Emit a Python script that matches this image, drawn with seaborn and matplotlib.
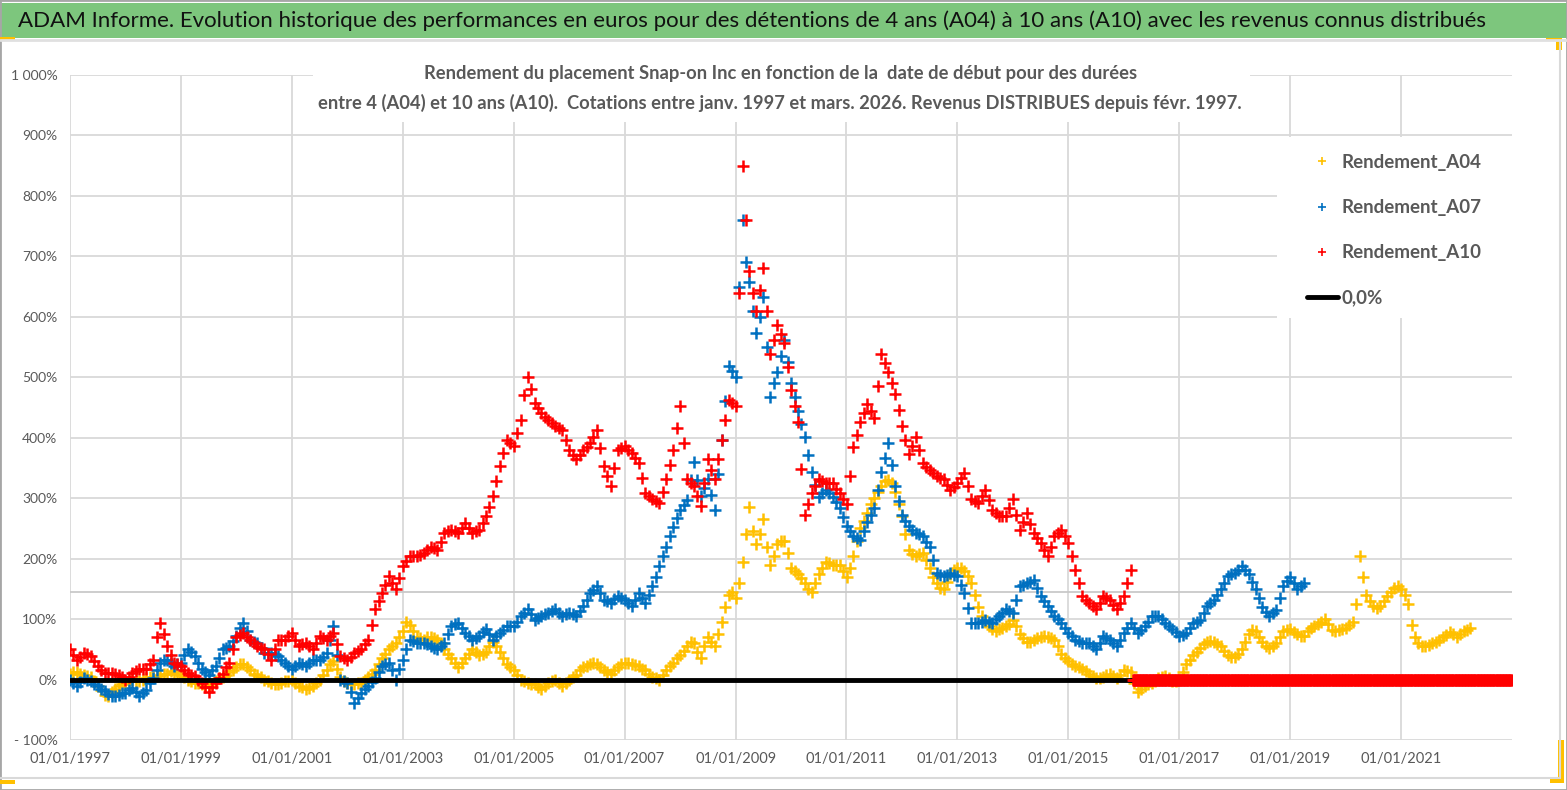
import numpy as np
import pandas as pd
import seaborn as sns
import matplotlib
matplotlib.use("Agg")
import matplotlib.pyplot as plt
from matplotlib.patches import Rectangle
from matplotlib.lines import Line2D

W, H, DPI = 1567, 790, 100

# rendements en %, un point tous les 1/8 d'annee a partir du 01/01/1997
a04 = [10, 12, 8, 5, -10, -25, -20, -10,
       -5, 0, -3, 2, 5, 8, 10, 12,
       8, 0, -5, -8, -12, -3, 5, 12,
       20, 25, 15, 8, 0, -5, -8, -3,
       0, -10, -15, -10, 0, 15, 30, 5,
       -5, -8, -5, 5, 15, 35, 50, 60,
       80, 90, 70, 65, 70, 65, 50, 35,
       20, 35, 50, 40, 45, 62, 45, 25,
       15, 0, -5, -8, -15, -5, 0, -10,
       0, 8, 20, 25, 25, 15, 10, 20,
       28, 25, 22, 15, 5, 0, 15, 28,
       40, 55, 60, 35, 70, 55, 95, 140,
       135, 195, 285, 225, 265, 190, 225, 230,
       185, 175, 160, 145, 175, 195, 190, 190,
       170, 205, 250, 275, 300, 320, 330, 310,
       270, 215, 205, 210, 185, 160, 150, 175,
       185, 180, 160, 120, 95, 83, 83, 88,
       98, 75, 62, 66, 70, 70, 65, 42,
       30, 22, 17, 10, 2, 4, 10, 2,
       15, 12, -20, -10, -6, 2, 6, -3,
       0, 25, 40, 52, 62, 62, 55, 40,
       38, 50, 75, 80, 62, 52, 60, 80,
       83, 75, 72, 85, 92, 100, 82, 82,
       86, 95, 205, 140, 122, 122, 138, 152,
       150, 125, 70, 55, 57, 62, 70, 78,
       70, 80, 85]
# lectures intermediaires (decalees de 1/16 d'annee)
a04_mi = [13, 10, 6, -2, -18, -28, -15, -8,
          -2, -2, 0, 4, 6, 10, 14, 10,
          4, -3, -6, -10, -8, 2, 8, 16,
          25, 20, 10, 4, -3, -8, -6, -2,
          -5, -12, -14, -5, 8, 25, 18, -2,
          -8, -6, 0, 10, 25, 42, 55, 70,
          95, 80, 68, 70, 68, 60, 42, 28,
          28, 42, 45, 42, 55, 55, 35, 20,
          8, -3, -8, -12, -10, -2, -5, -5,
          4, 15, 22, 28, 20, 12, 15, 25,
          27, 24, 18, 10, 2, 8, 22, 35,
          48, 62, 45, 55, 62, 75, 120, 145,
          160, 240, 245, 240, 220, 205, 230, 210,
          180, 168, 150, 160, 185, 192, 190, 180,
          185, 230, 262, 290, 310, 328, 325, 290,
          240, 208, 208, 198, 170, 152, 162, 182,
          185, 172, 140, 105, 88, 80, 86, 92,
          88, 68, 62, 68, 72, 68, 55, 36,
          26, 20, 14, 6, 2, 8, 6, 8,
          14, -5, -15, -8, -2, 4, 2, -2,
          12, 32, 46, 58, 64, 58, 48, 38,
          42, 62, 82, 70, 55, 55, 70, 82,
          78, 72, 80, 88, 96, 92, 80, 84,
          90, 125, 170, 130, 118, 130, 145, 155,
          140, 90, 60, 55, 60, 66, 74, 75,
          75, 82]

a07 = [0, -11, 3, -3, -11, -19, -28, -25,
       -22, -14, -28, -17, 3, 28, 33, 22,
       28, 50, 39, 17, 8, 22, 50, 55,
       72, 94, 66, 61, 44, 44, 39, 28,
       17, 28, 22, 33, 33, 44, 88, 0,
       -6, -38, -22, -11, 3, 22, 28, 0,
       33, 66, 61, 61, 55, 50, 61, 88,
       94, 77, 66, 72, 83, 66, 77, 88,
       88, 105, 116, 99, 105, 110, 116, 105,
       110, 105, 121, 143, 154, 132, 127, 138,
       132, 121, 143, 127, 154, 187, 220, 253,
       281, 297, 360, 303, 331, 281, 397, 518,
       500, 760, 657, 574, 633, 467, 509, 562,
       491, 444, 402, 343, 302, 314, 302, 284,
       254, 237, 231, 260, 284, 343, 391, 320,
       272, 254, 243, 237, 220, 176, 171, 176,
       171, 143, 94, 94, 99, 94, 105, 116,
       110, 154, 160, 165, 138, 121, 105, 94,
       77, 66, 61, 61, 50, 72, 66, 55,
       77, 94, 77, 88, 105, 105, 94, 83,
       72, 77, 94, 99, 121, 132, 149, 171,
       176, 187, 175, 150, 120, 105, 115, 155,
       170, 150, 160]
a07_mi = [-6, -4, 0, -7, -15, -24, -27, -23,
          -18, -20, -22, -6, 15, 32, 28, 25,
          40, 45, 28, 12, 15, 36, 52, 63,
          85, 80, 62, 52, 44, 42, 33, 22,
          22, 25, 28, 33, 38, 66, 40, -3,
          -20, -30, -16, -4, 12, 25, 15, 18,
          50, 63, 61, 58, 52, 55, 75, 92,
          85, 72, 69, 78, 75, 72, 82, 88,
          96, 110, 108, 102, 108, 113, 110, 108,
          108, 113, 132, 148, 143, 130, 133, 135,
          126, 132, 135, 140, 170, 204, 237, 267,
          289, 330, 330, 317, 306, 340, 460, 510,
          650, 690, 610, 600, 550, 490, 535, 525,
          468, 423, 372, 322, 308, 308, 293, 269,
          245, 234, 245, 272, 313, 367, 355, 296,
          263, 248, 240, 228, 198, 173, 173, 173,
          157, 118, 94, 96, 96, 100, 110, 113,
          132, 157, 162, 152, 130, 113, 100, 85,
          72, 63, 61, 55, 61, 69, 60, 66,
          85, 85, 82, 96, 105, 100, 88, 78,
          74, 85, 96, 110, 126, 140, 160, 174,
          182, 181, 162, 135, 112, 110, 135, 163,
          160, 155]

a10 = [50, 33, 44, 39, 22, 11, 11, 8,
       0, 11, 17, 17, 33, 94, 55, 28,
       22, 11, 6, -5, -20, -5, 10, 28,
       70, 77, 65, 55, 50, 33, 66, 66,
       77, 55, 61, 50, 72, 66, 77, 39,
       33, 44, 50, 66, 116, 143, 171, 149,
       187, 204, 204, 209, 220, 215, 242, 248,
       242, 259, 242, 248, 270, 303, 353, 397,
       386, 430, 501, 457, 441, 430, 419, 413,
       380, 364, 380, 391, 413, 353, 320, 380,
       386, 375, 358, 309, 298, 292, 331, 380,
       452, 331, 320, 287, 364, 331, 397, 463,
       452, 850, 675, 609, 680, 538, 586, 556,
       479, 426, 272, 308, 331, 325, 325, 308,
       290, 385, 426, 456, 432, 538, 509, 473,
       420, 373, 402, 358, 347, 336, 331, 314,
       325, 342, 298, 292, 314, 281, 270, 270,
       298, 248, 275, 242, 226, 204, 237, 248,
       226, 182, 138, 127, 116, 138, 132, 116,
       138, 182]
a10_mi = [40, 38, 42, 30, 16, 11, 10, 4,
          5, 14, 17, 25, 70, 75, 40, 25,
          16, 8, 0, -12, -12, 3, 20, 50,
          74, 70, 60, 52, 42, 50, 66, 72,
          66, 58, 55, 61, 69, 72, 58, 36,
          38, 47, 58, 90, 130, 157, 160, 168,
          196, 204, 206, 215, 218, 228, 245, 245,
          250, 250, 245, 259, 286, 328, 375, 392,
          408, 470, 480, 449, 435, 425, 416, 397,
          372, 372, 385, 402, 383, 336, 350, 383,
          380, 366, 333, 303, 295, 311, 355, 416,
          392, 325, 303, 325, 347, 364, 430, 457,
          640, 760, 640, 645, 610, 562, 571, 517,
          452, 349, 290, 320, 328, 325, 316, 299,
          337, 405, 441, 444, 485, 523, 491, 446,
          396, 387, 380, 352, 341, 333, 322, 319,
          333, 320, 295, 303, 297, 275, 270, 284,
          273, 261, 258, 234, 215, 220, 242, 237,
          204, 160, 132, 121, 127, 135, 124, 127,
          160]

debut = "1997-01-01"
fin_zero_noir = "2016-03-01"      # fin de la ligne 0,0%
debut_zero_rouge = "2016-03-01"   # A10 a zero apres la fin des cotations
fin_axe = "2023-01-01"
ligne_grise = 145                 # trait gris horizontal isole

annees_ticks = list(range(1997, 2022, 2))
y_ticks = list(range(-100, 1001, 100))

titre = ("ADAM Informe. Evolution historique des performances en euros pour des "
         "détentions de 4 ans (A04) à 10 ans (A10) avec les revenus connus distribués")
sous_titre1 = ("Rendement du placement Snap-on Inc en fonction de la  date de début "
               "pour des durées")
sous_titre2 = ("entre 4 (A04) et 10 ans (A10).  Cotations entre janv. 1997 et mars. 2026. "
               "Revenus DISTRIBUES depuis févr. 1997.")

JAUNE, BLEU, ROUGE = "#FFC000", "#0070C0", "#FF0000"
GRIS_TXT = "#595959"


def grille(n, decal=0.0):
    # dates tous les 1/8 d'annee
    return pd.Timestamp(debut) + pd.to_timedelta((np.arange(n) + decal) * 365.25 / 8,
                                                 unit="D")


def serie(principal, milieu):
    x = grille(len(principal)).append(grille(len(milieu), 0.5))
    return x, list(principal) + list(milieu)


def y_label(v):
    if v == 1000:
        return "1 000%"
    if v < 0:
        return "- %d%%" % (-v)
    return "%d%%" % v


sns.set_theme(style="whitegrid")
plt.rcParams["font.family"] = ["Lato", "DejaVu Sans"]

fig = plt.figure(figsize=(W / DPI, H / DPI), dpi=DPI)
fig.patch.set_facecolor("white")
ax = fig.add_axes([70 / W, 1 - 740 / H, (1512 - 70) / W, (740 - 75) / H])

zeros_rouges = pd.date_range(debut_zero_rouge, fin_axe, freq="5D")

kw = dict(marker="+", s=65, linewidth=1.8, zorder=2, ax=ax, legend=False)
for vals, mi, coul in [(a04, a04_mi, JAUNE), (a07, a07_mi, BLEU), (a10, a10_mi, ROUGE)]:
    x, y = serie(vals, mi)
    sns.scatterplot(x=x, y=y, color=coul, **kw)
sns.lineplot(x=pd.to_datetime([debut, fin_zero_noir]), y=[0, 0], color="black",
             lw=3.5, zorder=3, ax=ax)
kw["zorder"] = 4
sns.scatterplot(x=zeros_rouges, y=np.zeros(len(zeros_rouges)), color=ROUGE, **kw)

ax.axhline(ligne_grise, color="#c9c9c9", lw=1.3, zorder=0.6)

ax.set_xlim(pd.Timestamp(debut), pd.Timestamp(fin_axe))
ax.set_ylim(-100, 1000)
ax.set_xticks(pd.to_datetime(["%d-01-01" % a for a in annees_ticks]))
ax.set_xticklabels(["01/01/%d" % a for a in annees_ticks])
ax.set_yticks(y_ticks)
ax.set_yticklabels([y_label(v) for v in y_ticks])
ax.set_xlabel("")
ax.set_ylabel("")
ax.grid(True, color="#d9d9d9", lw=1.3)
for s in ax.spines.values():
    s.set_visible(False)
ax.tick_params(axis="x", length=0, pad=9, labelsize=10.5, labelcolor=GRIS_TXT)
ax.tick_params(axis="y", length=0, pad=9, labelsize=10, labelcolor=GRIS_TXT)

# caches blancs sous le sous-titre et la legende
for (x0, y0, x1, y1) in [(313, 55, 1250, 122), (1277, 137, 1513, 318)]:
    ax.add_patch(Rectangle((x0 / W, 1 - y1 / H), (x1 - x0) / W, (y1 - y0) / H,
                           transform=fig.transFigure, facecolor="white",
                           edgecolor="none", zorder=1, clip_on=False))

poignees = [Line2D([], [], marker="+", ls="none", color=JAUNE, markersize=6, mew=1.2),
            Line2D([], [], marker="+", ls="none", color=BLEU, markersize=6, mew=1.2),
            Line2D([], [], marker="+", ls="none", color=ROUGE, markersize=6, mew=1.2),
            Line2D([], [], color="black", lw=3.5)]
ax.legend(poignees, ["Rendement_A04", "Rendement_A07", "Rendement_A10", "0,0%"],
          loc="upper left", bbox_to_anchor=(1307 / W, 1 - 154 / H),
          bbox_transform=fig.transFigure, frameon=False, borderpad=0,
          borderaxespad=0, handlelength=1.65, handletextpad=0.2,
          labelspacing=1.5, prop={"weight": "bold", "size": 13.5},
          labelcolor=GRIS_TXT)

# bandeau vert du titre
fig.add_artist(Rectangle((0, 1 - 38 / H), 1, 35 / H, transform=fig.transFigure,
                         facecolor="#7DC67D", edgecolor="none"))
t0 = fig.text(752 / W, 1 - 21 / H, titre, ha="center", va="center",
              fontsize=17, color="#111111")
t1 = fig.text(781 / W, 1 - 73 / H, sous_titre1, ha="center", va="center",
              fontsize=13, color=GRIS_TXT, weight="bold")
t2 = fig.text(780 / W, 1 - 103 / H, sous_titre2, ha="center", va="center",
              fontsize=13, color=GRIS_TXT, weight="bold")

rend = fig.canvas.get_renderer()
for t, larg in [(t0, 1465), (t2, 919)]:
    w = t.get_window_extent(rend).width
    t.set_fontsize(t.get_fontsize() * larg / w)
t1.set_fontsize(t2.get_fontsize())

# cadre et coins jaunes
fig.add_artist(Rectangle((0, 0), 1, 1, transform=fig.transFigure, fill=False,
                         edgecolor="#a6a6a6", lw=2))
fig.add_artist(Line2D([1560 / W, 1560 / W], [1 - 42 / H, 1 - 778 / H],
                      transform=fig.transFigure, color="#d9d9d9", lw=1.5))
fig.add_artist(Line2D([0, 1560 / W], [1 - 778 / H, 1 - 778 / H],
                      transform=fig.transFigure, color="#d9d9d9", lw=1.5))
fig.add_artist(Line2D([0, 1], [1 - 40 / H, 1 - 40 / H],
                      transform=fig.transFigure, color="#e0e0e0", lw=2))
for (x0, y0, x1, y1) in [(0, 37, 15, 41), (0, 780, 15, 784), (1556, 38, 1562, 50),
                         (1546, 38, 1562, 41), (1558, 740, 1564, 783),
                         (1550, 779, 1564, 783)]:
    fig.add_artist(Rectangle((x0 / W, 1 - y1 / H), (x1 - x0) / W, (y1 - y0) / H,
                             transform=fig.transFigure, facecolor=JAUNE,
                             edgecolor="none"))

fig.savefig("out.png", dpi=DPI, facecolor="white")
